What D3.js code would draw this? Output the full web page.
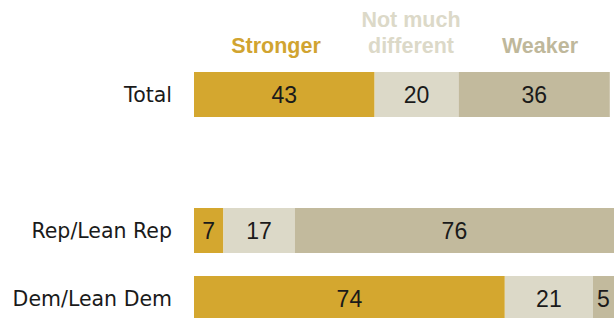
<!DOCTYPE html>
<html>
<head>
<meta charset="utf-8">
<script src="https://cdn.jsdelivr.net/npm/d3@7"></script>
<style>
  html, body { margin: 0; padding: 0; background: #fff; }
  svg { display: block; font-family: "Liberation Sans", Arial, sans-serif; }
</style>
</head>
<body>
<div id="chart"></div>
<script>
// Data
const categories = ["Total", "Rep/Lean Rep", "Dem/Lean Dem"];
const seriesNames = ["Stronger", "Not much different", "Weaker"];
const stronger = [43, 7, 74];
const notMuch = [20, 17, 21];
const weaker = [36, 76, 5];

const colors = ["#d4a72f", "#dcd9c8", "#c2ba9d"];
const headerColors = ["#d1a430", "#dcd9c8", "#bfb89b"];

document.addEventListener('DOMContentLoaded', function () {
    const width = 614, height = 318;

    const svg = d3.select("#chart").append("svg")
        .attr("width", width)
        .attr("height", height);

    // Rows, with an empty row between Total and the party groups
    const rows = [categories[0], "__gap", categories[1], categories[2]];

    const y = d3.scaleBand()
        .domain(rows)
        .range([72, 321])
        .paddingInner(23 / 68)
        .paddingOuter(0);

    const x = d3.scaleLinear()
        .domain([0, 100])
        .range([194, 614]);

    // Build stacked table
    const table = categories.map((c, i) => ({
        category: c,
        values: [stronger[i], notMuch[i], weaker[i]]
    }));

    table.forEach(row => {
        let acc = 0;
        row.segs = row.values.map((v, j) => {
            const s = { key: seriesNames[j], idx: j, x0: acc, x1: acc + v, v: v };
            acc += v;
            return s;
        });
    });

    const g = svg.selectAll("g.row")
        .data(table)
        .enter()
        .append("g")
        .attr("class", "row")
        .attr("transform", d => `translate(0,${y(d.category)})`);

    g.selectAll("rect")
        .data(d => d.segs)
        .enter()
        .append("rect")
        .attr("x", d => x(d.x0))
        .attr("y", 0)
        .attr("width", d => x(d.x1) - x(d.x0))
        .attr("height", y.bandwidth())
        .attr("fill", d => colors[d.idx]);

    g.selectAll("text.val")
        .data(d => d.segs)
        .enter()
        .append("text")
        .attr("class", "val")
        .attr("x", d => (x(d.x0) + x(d.x1)) / 2)
        .attr("y", y.bandwidth() / 2)
        .attr("dy", "0.36em")
        .attr("text-anchor", "middle")
        .attr("font-size", 23)
        .attr("fill", "#1a1a1a")
        .text(d => d.v);

    // Category labels
    g.append("text")
        .attr("x", 172)
        .attr("y", y.bandwidth() / 2)
        .attr("dy", "0.37em")
        .attr("text-anchor", "end")
        .attr("font-family", "'DejaVu Sans', sans-serif")
        .attr("font-size", 20.5)
        .attr("fill", "#1a1a1a")
        .text(d => d.category);

    // Column headers above the Total bar
    const headerX = [276, 411, 540];
    const headerLines = [["Stronger"], ["Not much", "different"], ["Weaker"]];

    const hdr = svg.selectAll("text.hdr")
        .data(seriesNames)
        .enter()
        .append("text")
        .attr("class", "hdr")
        .attr("text-anchor", "middle")
        .attr("font-size", 21.5)
        .attr("font-weight", "bold")
        .attr("fill", (d, i) => headerColors[i]);

    hdr.each(function (d, i) {
        const lines = headerLines[i];
        d3.select(this).selectAll("tspan")
            .data(lines)
            .enter()
            .append("tspan")
            .attr("x", headerX[i])
            .attr("y", (l, k) => 53 - (lines.length - 1 - k) * 26)
            .text(l => l);
    });
});
</script>
</body>
</html>
